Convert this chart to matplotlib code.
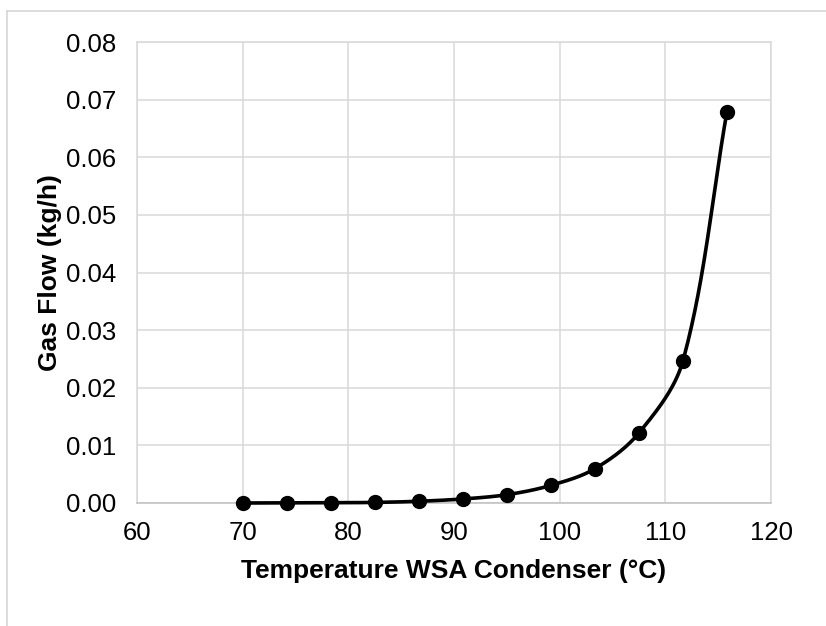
import numpy as np
import matplotlib
matplotlib.use("Agg")
import matplotlib.pyplot as plt
from matplotlib.lines import Line2D

temperature = [70.0, 74.17, 78.33, 82.5, 86.67, 90.83, 95.0, 99.17, 103.33, 107.5, 111.67, 115.83]
gas_flow = [0.0000, 0.00002, 0.00005, 0.0001, 0.0003, 0.0007, 0.00144, 0.00306, 0.00595, 0.01215, 0.0247, 0.0679]
x_ticks = [60, 70, 80, 90, 100, 110, 120]
y_ticks = [0.00, 0.01, 0.02, 0.03, 0.04, 0.05, 0.06, 0.07, 0.08]

plt.rcParams['font.family'] = ['Liberation Sans', 'DejaVu Sans']

fig = plt.figure(figsize=(8.26, 6.26), dpi=100)
W, H = 826, 626
ax = fig.add_axes([137 / W, 1 - 503 / H, (771 - 137) / W, (503 - 42) / H])
ax.set_xlim(60, 120)
ax.set_ylim(0, 0.08)
ax.set_xticks(x_ticks)
ax.set_yticks(y_ticks)
ax.set_yticklabels([f"{v:.2f}" for v in y_ticks])
ax.set_xticklabels([str(v) for v in x_ticks])
ax.grid(True, color='#d9d9d9', linewidth=1.1)
ax.set_axisbelow(True)
for s in ['top', 'right', 'left']:
    ax.spines[s].set_color('#d9d9d9')
    ax.spines[s].set_linewidth(1.1)
ax.spines['bottom'].set_color('#bfbfbf')
ax.spines['bottom'].set_linewidth(1.1)
ax.tick_params(length=0, labelsize=18.5, colors='black')
ax.tick_params(axis='y', pad=15)
ax.tick_params(axis='x', pad=13)

# Excel-like smoothed line computed in display space
fig.canvas.draw()
pts = ax.transData.transform(np.column_stack([temperature, gas_flow]))
n = len(pts)
tangents = []
for i in range(n):
    a = pts[i - 1] if i > 0 else pts[i]
    b = pts[i + 1] if i < n - 1 else pts[i]
    d = b - a
    tangents.append(d / np.hypot(*d))
curve = []
for i in range(n - 1):
    p1, p2 = pts[i], pts[i + 1]
    L = np.hypot(*(p2 - p1)) / 3.0
    c1 = p1 + tangents[i] * L
    c2 = p2 - tangents[i + 1] * L
    t = np.linspace(0, 1, 50)[:, None]
    seg = (1 - t) ** 3 * p1 + 3 * (1 - t) ** 2 * t * c1 + 3 * (1 - t) * t ** 2 * c2 + t ** 3 * p2
    curve.append(seg if i == 0 else seg[1:])
curve = np.vstack(curve)
curve_data = ax.transData.inverted().transform(curve)
ax.plot(curve_data[:, 0], curve_data[:, 1], color='black', linewidth=2.6, zorder=3, clip_on=False)
ax.plot(temperature, gas_flow, 'o', color='black', markersize=10, zorder=4, clip_on=False)

ax.set_xlabel('Temperature WSA Condenser (°C)', fontsize=19, fontweight='bold', labelpad=10)
ax.set_ylabel('Gas Flow (kg/h)', fontsize=19, fontweight='bold', labelpad=3)

# chart-area border (left and top)
fig.add_artist(Line2D([7 / W, 7 / W], [0, 1 - 11 / H], transform=fig.transFigure, color='#d9d9d9', linewidth=1.3))
fig.add_artist(Line2D([7 / W, 1], [1 - 11 / H, 1 - 11 / H], transform=fig.transFigure, color='#d9d9d9', linewidth=1.3))

fig.savefig('out.png', dpi=100)
